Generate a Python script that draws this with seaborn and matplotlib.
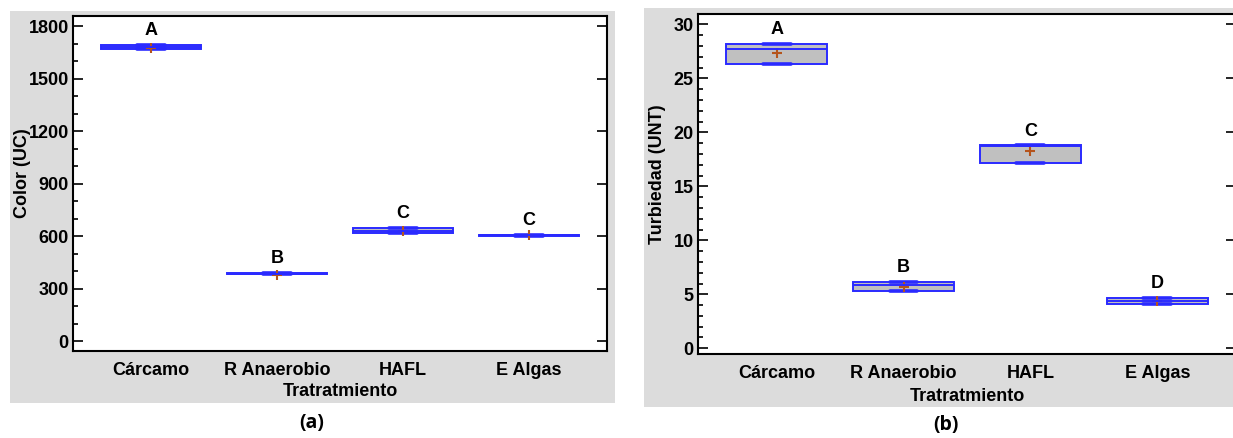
import numpy as np
import pandas as pd
import matplotlib
matplotlib.use('Agg')
import matplotlib.pyplot as plt
from matplotlib.patches import Rectangle
from matplotlib.ticker import MultipleLocator
import seaborn as sns

# Datos (min, mediana, max, media por tratamiento)
tratamientos = ['Cárcamo', 'R Anaerobio', 'HAFL', 'E Algas']

color_min = [1668, 382, 615, 602]
color_med = [1680, 385, 630, 604]
color_max = [1692, 388, 647, 606]
color_mean = [1677, 380, 630, 605]
color_letras = ['A', 'B', 'C', 'C']

turb_min = [26.3, 5.33, 17.2, 4.12]
turb_med = [27.75, 5.86, 18.7, 4.40]
turb_max = [28.2, 6.15, 18.8, 4.65]
turb_mean = [27.35, 5.70, 18.27, 4.40]
turb_letras = ['A', 'B', 'C', 'D']

sns.set_theme(style='ticks')
plt.rcParams['font.family'] = ['Liberation Sans', 'DejaVu Sans']
plt.rcParams['font.weight'] = 'bold'
for k in ['text.color', 'axes.labelcolor', 'xtick.color', 'ytick.color']:
    plt.rcParams[k] = 'black'

AZUL = '#2a2aff'
GRIS = '#c0c0c0'
MEDIA = '#b5541c'
FS = 13


def tabla_cajas(mins, meds, maxs):
    # min y max repetidos para que los cuartiles coincidan con los extremos
    filas = []
    for t, a, m, b in zip(tratamientos, mins, meds, maxs):
        for v in [a, a, m, b, b]:
            filas.append({'Tratamiento': t, 'valor': v})
    return pd.DataFrame(filas)


def panel(ax, mins, meds, maxs, means, letras, ylabel, ylim, major, minor, ylab_x, xlab_y):
    df = tabla_cajas(mins, meds, maxs)
    sns.boxplot(data=df, x='Tratamiento', y='valor', order=tratamientos, width=0.8,
                color=GRIS, saturation=1, linecolor=AZUL, linewidth=1.4,
                fliersize=0, whis=1.5, capwidths=0.22,
                capprops=dict(linewidth=2.6), ax=ax)
    sns.pointplot(x=tratamientos, y=means, order=tratamientos, color=MEDIA,
                  marker='+', linestyle='none', markersize=7, markeredgewidth=1.5,
                  errorbar=None, ax=ax)
    for i, (letra, top) in enumerate(zip(letras, maxs)):
        ax.annotate(letra, (i, top), xytext=(0, 7), textcoords='offset points',
                    ha='center', va='baseline', fontsize=FS, fontweight='bold')

    ax.set_xlim(-0.62, 3.62)
    ax.set_ylim(*ylim)
    ax.yaxis.set_major_locator(MultipleLocator(major))
    ax.yaxis.set_minor_locator(MultipleLocator(minor))
    ax.tick_params(axis='y', which='major', direction='in', length=7, width=1.2,
                   right=True, labelsize=FS, pad=3)
    ax.tick_params(axis='y', which='minor', direction='in', length=3.6, width=1.2,
                   left=True, right=False)
    ax.tick_params(axis='x', length=0, labelsize=FS, pad=8)
    for lab in ax.get_xticklabels() + ax.get_yticklabels():
        lab.set_fontweight('bold')
    for s in ax.spines.values():
        s.set_visible(True)
        s.set_linewidth(1.5)
        s.set_color('black')
    ax.set_xlabel('Tratratmiento', fontsize=FS, fontweight='bold')
    ax.set_ylabel(ylabel, fontsize=FS, fontweight='bold')
    ax.xaxis.set_label_coords(0.5, xlab_y)
    ax.yaxis.set_label_coords(ylab_x, 0.53)
    ax.set_facecolor('white')


fig = plt.figure(figsize=(12.33, 4.38), dpi=100)
fig.patch.set_facecolor('white')

# fondos grises de cada panel
fig.add_artist(Rectangle((0.0081, 0.0799), 0.4907, 0.895, transform=fig.transFigure,
                         facecolor='#dcdcdc', edgecolor='none', zorder=-10))
fig.add_artist(Rectangle((0.5223, 0.0708), 0.4777, 0.911, transform=fig.transFigure,
                         facecolor='#dcdcdc', edgecolor='none', zorder=-10))

ax1 = fig.add_axes([0.0592, 0.1986, 0.4331, 0.7648])
ax2 = fig.add_axes([0.5661, 0.1918, 0.4363, 0.7763])

panel(ax1, color_min, color_med, color_max, color_mean, color_letras, 'Color (UC)',
      (-57, 1857), 300, 100, -0.079, -0.095)
panel(ax2, turb_min, turb_med, turb_max, turb_mean, turb_letras, 'Turbiedad (UNT)',
      (-0.53, 30.97), 5, 1, -0.059, -0.10)

fig.text(0.253, 0.035, '(a)', ha='center', va='center', fontsize=14, fontweight='bold',
         family=['Open Sans', 'DejaVu Sans'])
fig.text(0.767, 0.03, '(b)', ha='center', va='center', fontsize=14, fontweight='bold',
         family=['Open Sans', 'DejaVu Sans'])

fig.savefig('out.png', dpi=100)
